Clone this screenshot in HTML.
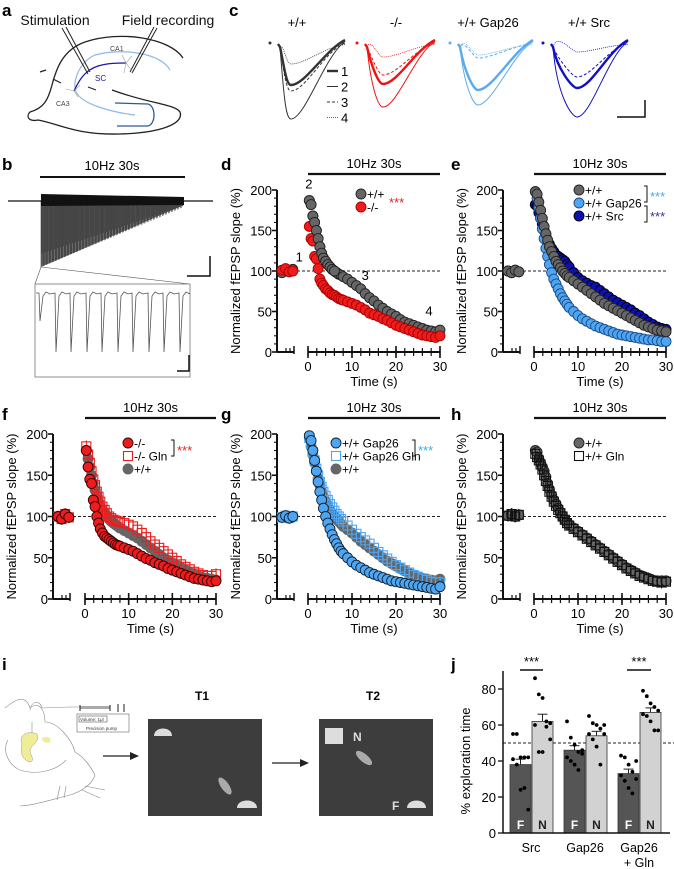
<!DOCTYPE html>
<html><head><meta charset="utf-8">
<style>
html,body{margin:0;padding:0;background:#fff;}
svg{display:block;font-family:"Liberation Sans",sans-serif;}
.pl{font-weight:bold;font-size:17px;}
</style></head>
<body>
<svg id="fig" width="674" height="869" viewBox="0 0 674 869" xmlns="http://www.w3.org/2000/svg">
<text class="pl" x="2" y="16">a</text>
<text class="pl" x="229" y="16">c</text>
<text class="pl" x="2" y="170">b</text>
<text class="pl" x="221" y="170">d</text>
<text class="pl" x="451" y="170">e</text>
<text class="pl" x="2" y="420">f</text>
<text class="pl" x="221" y="420">g</text>
<text class="pl" x="451" y="420">h</text>
<text class="pl" x="2" y="670">i</text>
<text class="pl" x="451" y="670">j</text>

<g fill="none">
<text x="55" y="25" font-size="14" text-anchor="middle" fill="#111">Stimulation</text>
<text x="168" y="25" font-size="14" text-anchor="middle" fill="#111">Field recording</text>
<path d="M183,58 C170,38 120,30 85,42 C62,50 56,70 52,85 C48,100 44,108 30,112 C26,116 28,122 38,120 C60,124 75,135 120,134 C160,133 184,124 180,112 C175,104 150,104 112,90" stroke="#222" stroke-width="1.3"/>
<path d="M170,70 C160,52 120,48 95,55 C80,62 72,80 76,92 C82,104 110,112 135,115" stroke="#8fb8e8" stroke-width="1.2"/>
<path d="M115,103 L148,104 C156,106 156,124 148,126 L117,126" stroke="#2a5a9a" stroke-width="1.3"/>
<path d="M74,91 C80,78 86,70 98,66 C108,63 118,63 126,63" stroke="#1a1aa0" stroke-width="1.3"/>
<text x="95" y="81" font-size="8" fill="#1a1aa0">SC</text>
<text x="110" y="51" font-size="7" fill="#444">CA1</text>
<text x="56" y="106" font-size="7" fill="#444">CA3</text>
<path d="M62,28 L88,74 M66,27 L90,72" stroke="#222" stroke-width="1"/>
<path d="M157,28 L132,73 M154,27 L130,72" stroke="#222" stroke-width="1"/>
<path d="M126,63 l-4,-8 m4,8 l6,-7 m-6,7 l-2,10 m2,-10 l6,8 M74,91 l-8,-2 m8,2 l6,-6 m-6,6 l4,6" stroke="#999" stroke-width="0.6"/>
<path d="M40,72 l6,-2 M53,79 l8,4 M88,87 l8,3" stroke="#222" stroke-width="1.2"/>
</g>

<g id="panelC"></g>
<g id="panelB"></g>
<g id="panelD"></g>
<g id="panelE"></g>
<g id="panelF"></g>
<g id="panelG"></g>
<g id="panelH"></g>

<g>
<g fill="none" stroke="#888" stroke-width="0.6">
<path d="M5,708 C15,700 25,693 30,708 C40,700 45,712 45,722 C58,722 72,740 75,752 C85,758 90,766 95,775 C92,785 80,792 70,795 C50,800 35,805 20,806"/>
<path d="M8,740 C2,750 8,765 20,770 C35,775 55,772 66,760"/>
<path d="M30,710 C32,700 40,700 42,708 L70,707 L110,707"/>
<path d="M32,740 L32,722"/>
<path d="M85,786 l20,4 M82,790 l18,8 M60,786 l-3,14 M66,786 l-2,12"/>
</g>
<path d="M22,744 C18,735 28,730 37,734 C40,742 32,744 30,750 C30,756 36,760 30,762 C22,760 20,752 22,744 Z" fill="#f1ec96" stroke="#999" stroke-width="0.5"/>
<path d="M42,738 C48,736 52,737 50,742 C46,744 42,742 42,738Z" fill="#f1ec96"/>
<rect x="77" y="714" width="52" height="18" fill="#fff" stroke="#666" stroke-width="0.6"/>
<rect x="79" y="716" width="28" height="6" fill="none" stroke="#333" stroke-width="0.5"/>
<text x="80" y="721" font-size="4.5" fill="#333">Volume: 1μl</text>
<text x="86" y="730" font-size="4.5" fill="#333">Precision pump</text>
<rect x="80" y="706" width="30" height="3" fill="#aaa"/>
<path d="M80,705 v6 M110,705 v6 M118,704 v8 M124,704 v8" stroke="#222" stroke-width="1"/>
<path d="M103,756 H130" stroke="#222" stroke-width="1.2"/><path d="M130,752 L139,756 L130,760Z" fill="#222"/>
<path d="M272,763 H300" stroke="#222" stroke-width="1.2"/><path d="M300,759 L309,763 L300,767Z" fill="#222"/>
<text x="202" y="700" font-size="12" font-weight="bold" text-anchor="middle">T1</text>
<text x="373" y="700" font-size="12" font-weight="bold" text-anchor="middle">T2</text>
<rect x="148" y="719" width="114" height="97" fill="#3d3d3d"/>
<rect x="319" y="719" width="114" height="97" fill="#3d3d3d"/>
<path d="M154,736 C154,726 172,726 172,736 Z" fill="#ddd"/>
<path d="M237,808 C237,798 257,798 257,808 Z" fill="#ddd"/>
<ellipse cx="225" cy="786" rx="4" ry="10" transform="rotate(-35 225 786)" fill="#aaa"/>
<rect x="325" y="728" width="18" height="16" fill="#ddd"/>
<text x="353" y="741" font-size="12" font-weight="bold" fill="#ddd">N</text>
<ellipse cx="364" cy="758" rx="4" ry="10" transform="rotate(-50 364 758)" fill="#aaa"/>
<text x="392" y="810" font-size="12" font-weight="bold" fill="#ddd">F</text>
<path d="M407,808 C407,798 426,798 426,808 Z" fill="#ddd"/>
</g>

<g id="panelJ"></g>
</svg>

<script>
var stimTimes = [0.3,0.7,1.1,1.5,1.9,2.3,2.7,3.1,3.5,4,4.5,5,5.5,6,6.5,7,7.5,8,9,10,11,12,13,14,15,16,17,18,19,20,21,22,23,24,25,26,27,28,29,30];
var preTimes = [-4,-3,-2,-1];
var dWT  = [187,182,168,160,150,140,130,122,116,112,108,105,102,100,98,96,95,93,90,86,82,78,72,67,63,58,54,50,47,44,40,37,35,33,31,29,27,26,25,27];
var dKO  = [155,140,137,118,115,103,90,85,82,78,76,73,71,70,68,66,65,64,62,60,58,55,52,48,46,44,41,39,36,33,31,29,27,25,23,21,20,19,18,20];
var dWTpre = [98,101,99,102];
var dKOpre = [101,103,99,100];
var eWT  = [198,195,185,175,165,155,146,138,130,124,118,112,108,104,100,97,94,92,88,84,80,76,72,68,64,60,57,54,51,48,45,42,39,36,33,31,29,27,26,25];
var eGap = [198,190,178,165,152,140,128,118,108,98,90,84,78,72,67,63,59,55,50,45,41,38,35,32,30,28,26,24,22,21,20,19,18,17,16,15,15,14,13,13];
var eSrc = [182,180,172,165,158,150,144,138,133,128,124,120,118,116,114,112,108,105,98,92,88,85,82,80,76,72,68,64,61,58,55,52,48,45,41,37,34,31,29,28];
var ePre = [100,98,101,99];
var fKO  = [180,160,145,140,120,112,100,92,85,80,76,74,72,70,68,66,65,64,62,60,58,55,52,49,47,44,42,40,37,35,33,31,29,27,25,24,23,22,21,22];
var fKOGln = [185,175,165,155,145,138,130,124,118,112,108,104,100,98,96,95,94,93,92,90,88,84,80,75,70,66,62,58,54,50,46,42,39,36,33,31,29,28,28,30];
var fWT  = [180,170,160,150,140,132,125,118,112,108,104,100,97,94,92,90,88,86,83,80,77,74,70,66,62,58,54,50,47,44,41,38,35,32,30,28,26,25,24,23];
var fPre = [100,97,103,99];
var gGap = [198,192,180,168,155,142,130,120,110,100,92,85,78,72,67,62,58,55,50,45,41,38,35,32,30,28,26,24,22,21,20,19,18,17,16,15,14,13,12,15];
var gGapGln = [195,188,178,168,158,150,142,136,130,125,120,115,111,107,103,100,97,94,89,84,79,75,71,67,62,57,53,49,45,41,38,35,32,29,27,25,23,21,20,20];
var gWT  = [195,185,175,165,155,146,138,130,124,118,113,108,104,100,97,94,91,88,84,80,75,70,66,62,58,54,50,46,43,40,37,34,31,29,27,25,24,23,22,24];
var gPre = [99,101,98,100];
var hWT  = [180,178,170,165,160,155,148,140,133,126,120,115,110,105,100,96,93,90,86,82,78,74,70,66,62,58,54,50,46,42,38,35,32,29,27,25,23,22,22,22];
var hGln = [176,172,168,163,157,150,143,137,130,124,118,113,108,104,100,96,92,89,85,81,77,73,69,65,61,57,53,49,45,41,37,34,31,28,26,24,22,21,20,21];
var hPre = [101,103,100,102];
var yTicks = [0,50,100,150,200];
var xTicks = [0,10,20,30];

var jGroups = ["Src","Gap26","Gap26"];
var jFmean = [38,46,33];
var jNmean = [62,54,67];
var jFerr = [3,2.5,2.5];
var jNerr = [4,2.5,2.5];
var jFpts = [[55,55,42,42,42,41,38,24,25,13],[62,53,49,45,46,42,40,38,35,44],[43,42,38,34,30,32,29,25,22,40]];
var jNpts = [[86,77,75,62,61,60,45,45,59,52],[65,61,60,58,55,55,52,48,38,60],[79,76,72,70,68,66,65,62,57,57]];
var jTicks = [0,20,40,60,80];

var NS = "http://www.w3.org/2000/svg";
function el(tag, attrs, parent){ var e=document.createElementNS(NS,tag); for(var k in attrs) e.setAttribute(k,attrs[k]); if(parent) parent.appendChild(e); return e; }

function chart(gid, geo, series, legend){
  var g=document.getElementById(gid);
  var y0=geo.y0, y200=geo.y200;
  function Y(v){ return y0-(v/200)*(y0-y200); }
  function X(t){ return geo.x0+(t/30)*(geo.x30-geo.x0); }
  function XP(t){ return geo.ax+5+(t+4)*3.6; }
  var bar=el("line",{x1:geo.x0,x2:geo.x30,y1:y200-16,y2:y200-16,stroke:"#111","stroke-width":2.2},g);
  
  
  var bt=el("text",{x:(geo.x0+geo.x30)/2,y:y200-22,"font-size":13,"text-anchor":"middle"},g); bt.textContent="10Hz 30s";
  var dl=el("line",{x1:geo.ax,x2:geo.x30,y1:Y(100),y2:Y(100),stroke:"#222","stroke-width":1,"stroke-dasharray":"3,2"},g);
  
  
  var ya=el("g",{},g);
  
  
  el("line",{x1:geo.ax,x2:geo.ax,y1:y200,y2:y0,stroke:"#111","stroke-width":2},ya);
  for(var v=0;v<=200;v+=10){ var maj=(v%50===0); el("line",{x1:geo.ax-(maj?5:3),x2:geo.ax,y1:Y(v),y2:Y(v),stroke:"#111","stroke-width":maj?1.6:1.1},ya); }
  yTicks.forEach(function(v){ var t=el("text",{x:geo.ax-5,y:Y(v)+5,"font-size":13,"text-anchor":"end"},ya); t.textContent=v; });
  var yl=el("text",{x:0,y:0,"font-size":13,"text-anchor":"middle",transform:"translate("+(geo.ax-37)+","+((y0+y200)/2)+") rotate(-90)"},g);
  yl.textContent="Normalized fEPSP slope (%)";
  
  
  var xa=el("g",{},g);
  
  
  el("line",{x1:geo.ax,x2:geo.ax+17,y1:y0,y2:y0,stroke:"#111","stroke-width":2},xa);
  [geo.ax+9,geo.ax+13].forEach(function(x){el("line",{x1:x,x2:x,y1:y0-4,y2:y0,stroke:"#111","stroke-width":1.2},xa);});
  el("line",{x1:geo.ax+17,x2:geo.ax+17,y1:y0-6,y2:y0+2,stroke:"#111","stroke-width":1.5},xa);
  el("line",{x1:geo.x0,x2:geo.x30,y1:y0,y2:y0,stroke:"#111","stroke-width":2},xa);
  for(var t=0;t<=30;t+=2){ el("line",{x1:X(t),x2:X(t),y1:y0-4,y2:y0+4,stroke:"#111","stroke-width":1.2},xa); }
  xTicks.forEach(function(t){ el("line",{x1:X(t),x2:X(t),y1:y0-6,y2:y0+6,stroke:"#111","stroke-width":1.6},xa); var tx=el("text",{x:X(t),y:y0+19,"font-size":13,"text-anchor":"middle"},xa); tx.textContent=t; });
  var xl=el("text",{x:(geo.x0+geo.x30)/2,y:y0+34,"font-size":13,"text-anchor":"middle"},g); xl.textContent="Time (s)";
  
  
  series.forEach(function(s){
    var sg=el("g",{},g);
    
    
    function mark(x,y){
      if(s.err){ el("line",{x1:x,x2:x,y1:y-6,y2:y+6,stroke:s.stroke,"stroke-width":1},sg); }
      if(s.shape==="sq"){ var m=el("rect",{x:x-4.5,y:y-4.5,width:9,height:9,fill:s.fill,stroke:s.stroke,"stroke-width":1.1},sg);   }
      else { var c=el("circle",{cx:x,cy:y,r:5,fill:s.fill,stroke:s.stroke,"stroke-width":0.9},sg);   }
    }
    s.pre.forEach(function(v,i){ mark(XP(preTimes[i]),Y(v)); });
    s.vals.forEach(function(v,i){ mark(X(stimTimes[i]),Y(v)); });
  });
  legend.items.forEach(function(it,i){
    var lg=el("g",{},g);
    
    
    var ly=legend.y+i*13;
    if(it.shape==="sq") el("rect",{x:legend.x-4.5,y:ly-4.5,width:9,height:9,fill:it.fill,stroke:it.stroke,"stroke-width":1.1},lg);
    else el("circle",{cx:legend.x,cy:ly,r:5,fill:it.fill,stroke:it.stroke,"stroke-width":0.9},lg);
    var t=el("text",{x:legend.x+6,y:ly+4.5,"font-size":12},lg); t.textContent=it.label;
  });
  (legend.stars||[]).forEach(function(st){
    if(st.br) el("path",{d:"M"+(st.x-3)+","+st.y1+" h3 v"+(st.y2-st.y1)+" h-3",fill:"none",stroke:"#111","stroke-width":1},g);
    var t=el("text",{x:st.x+3,y:(st.y1+st.y2)/2+7,"font-size":13,fill:st.c},g); t.textContent="***";
  });
  (legend.nums||[]).forEach(function(n){ var t=el("text",{x:X(n[1]),y:Y(n[2]),"font-size":13,"text-anchor":"middle"},g); t.textContent=n[0]; });
}
var GR="#666", RD="#ee1c1c", LB="#4ea6f2", DB="#0c10b4", K="#222";
var row1={y0:352,y200:190}, row2={y0:599,y200:434};
chart("panelD",{ax:277,x0:308,x30:440,y0:row1.y0,y200:row1.y200},
 [{name:"series-wt",vals:dWT,pre:dWTpre,fill:GR,stroke:K},{name:"series-ko",vals:dKO,pre:dKOpre,fill:RD,stroke:"#a00"},{name:"series-wt-top",vals:dWT.slice(0,14),pre:[],fill:GR,stroke:K}],
 {x:361,y:194,items:[{label:"+/+",fill:GR,stroke:K},{label:"-/-",fill:RD,stroke:"#a00"}],stars:[{x:386,y1:194,y2:206,c:RD,br:false}],nums:[["1",-2,112],["2",0.2,202],["3",13,89],["4",27.5,45]]});
chart("panelE",{ax:503,x0:534,x30:666,y0:row1.y0,y200:row1.y200},
 [{name:"series-src",vals:eSrc,pre:ePre,fill:DB,stroke:"#000"},{name:"series-gap26",vals:eGap,pre:ePre,fill:LB,stroke:"#1a4a8a"},{name:"series-wt",vals:eWT,pre:ePre,fill:GR,stroke:K}],
 {x:579,y:190,items:[{label:"+/+",fill:GR,stroke:K},{label:"+/+ Gap26",fill:LB,stroke:"#1a4a8a"},{label:"+/+ Src",fill:DB,stroke:"#000"}],stars:[{x:647,y1:186,y2:202,c:LB,br:true},{x:647,y1:206,y2:222,c:"#35358f",br:true}]});
chart("panelF",{ax:53,x0:85,x30:216,y0:row2.y0,y200:row2.y200},
 [{name:"series-wt",vals:fWT,pre:fPre,fill:GR,stroke:GR},{name:"series-ko-gln",vals:fKOGln,pre:fPre,fill:"none",stroke:RD,shape:"sq",err:true},{name:"series-ko",vals:fKO,pre:fPre,fill:RD,stroke:"#300"}],
 {x:128,y:443,items:[{label:"-/-",fill:RD,stroke:"#300"},{label:"-/- Gln",fill:"#fff",stroke:RD,shape:"sq"},{label:"+/+",fill:GR,stroke:GR}],stars:[{x:174,y1:440,y2:456,c:RD,br:true}]});
chart("panelG",{ax:277,x0:308,x30:440,y0:row2.y0,y200:row2.y200},
 [{name:"series-wt",vals:gWT,pre:gPre,fill:GR,stroke:GR},{name:"series-gap26-gln",vals:gGapGln,pre:gPre,fill:"none",stroke:LB,shape:"sq",err:true},{name:"series-gap26",vals:gGap,pre:gPre,fill:LB,stroke:"#123"}],
 {x:336,y:443,items:[{label:"+/+ Gap26",fill:LB,stroke:"#123"},{label:"+/+ Gap26 Gln",fill:"#fff",stroke:LB,shape:"sq"},{label:"+/+",fill:GR,stroke:GR}],stars:[{x:415,y1:440,y2:456,c:"#2ab0f0",br:true}]});
chart("panelH",{ax:503,x0:534,x30:666,y0:row2.y0,y200:row2.y200},
 [{name:"series-wt",vals:hWT,pre:hPre,fill:GR,stroke:K},{name:"series-gln",vals:hGln,pre:hPre,fill:"none",stroke:"#111",shape:"sq",err:true}],
 {x:579,y:443,items:[{label:"+/+",fill:GR,stroke:K},{label:"+/+ Gln",fill:"#fff",stroke:"#111",shape:"sq"}]});

(function(){
  var g=document.getElementById("panelB");
  var l=el("line",{x1:40,x2:185,y1:177,y2:177,stroke:"#111","stroke-width":2},g);
   
  var t=el("text",{x:112,y:170,"font-size":13,"text-anchor":"middle"},g); t.textContent="10Hz 30s";
  el("line",{x1:8,x2:213,y1:201,y2:201,stroke:"#111","stroke-width":1.2},g);
  el("path",{d:"M41,201 L41,267 L184,205 L184,201 Z",fill:"#6a6a6a"},g);
  var d="";
  for(var i=0;i<140;i++){ var x=41+i*1.02; var dep=66-(i/140)*60; if(i%3===1) dep*=0.8; d+="M"+x.toFixed(1)+",201 v"+dep.toFixed(1)+" "; }
  el("path",{d:d,stroke:"#222","stroke-width":0.5,fill:"none"},g);
  el("path",{d:"M41,194 L184,197 L184,205 L41,206 Z",fill:"#111"},g);
  el("path",{d:"M210,256 V276 H187",fill:"none",stroke:"#111","stroke-width":1.5},g);
  el("path",{d:"M41,267 L35,284 M41,267 L190,284",fill:"none",stroke:"#555","stroke-width":0.6},g);
  el("rect",{x:35,y:284,width:155,height:93,fill:"#fff",stroke:"#777","stroke-width":0.8},g);
  var p="M36,293";
  var sx=[40,56,71,87,102,118,133,149,164,180];
  sx.forEach(function(x,i){ var dep=(i===0)?28:59; p+=" L"+(x-1)+",293 L"+x+","+(293+dep)+" L"+(x+3)+",296 L"+(x+6)+",292 L"+(x+10)+",294"; });
  p+=" L189,293";
  el("path",{d:p,fill:"none",stroke:"#555","stroke-width":0.8},g);
  el("path",{d:"M189,355 V371 H177",fill:"none",stroke:"#111","stroke-width":1.5},g);
})();

(function(){
  var g=document.getElementById("panelC");
  var groups=[{lab:"+/+",x:297,c:"#333",on:278,mx:291,end:345,mins:[85,119,91,64]},
              {lab:"-/-",x:396,c:"#f01010",on:365,mx:383,end:435,mins:[84,107,75,57]},
              {lab:"+/+ Gap26",x:488,c:"#5aaaf0",on:458,mx:478,end:533,mins:[90,105,58,55]},
              {lab:"+/+ Src",x:589,c:"#1010c0",on:551,mx:577,end:628,mins:[88,117,77,52]}];
  var sty=[{w:2.4,da:""},{w:1,da:""},{w:1,da:"3,2"},{w:0.8,da:"1,1"}];
  groups.forEach(function(gr){
    var t=el("text",{x:gr.x,y:27,"font-size":13,"text-anchor":"middle"},g); t.textContent=gr.lab;
    el("circle",{cx:gr.on-8,cy:43,r:1.5,fill:gr.c},g);
    gr.mins.forEach(function(m,i){
      var d="M"+gr.on+",44 L"+(gr.on+2)+",47 C"+(gr.on+6)+","+(m-20)+" "+(gr.mx-5)+","+m+" "+gr.mx+","+m+" C"+(gr.mx+14)+","+m+" "+(gr.end-20)+","+(44+(m-44)*0.15)+" "+gr.end+","+(40+i*1.5);
      el("path",{d:d,fill:"none",stroke:gr.c,"stroke-width":sty[i].w,"stroke-dasharray":sty[i].da},g);
    });
  });
  ["1","2","3","4"].forEach(function(n,i){ var y=71+i*15.5; el("line",{x1:327,x2:338,y1:y,y2:y,stroke:"#333","stroke-width":sty[i].w,"stroke-dasharray":sty[i].da},g); var t=el("text",{x:341,y:y+5,"font-size":13},g); t.textContent=n; });
  el("path",{d:"M645,100 V117 H617",fill:"none",stroke:"#111","stroke-width":1.5},g);
})();

(function(){
  var g=document.getElementById("panelJ");
  var ax=503, y0=833, y80=689;
  function Y(v){ return y0-(v/80)*(y0-y80); }
  var gx=[510,564,618], bw=21;
  el("line",{x1:ax,x2:674,y1:Y(50),y2:Y(50),stroke:"#222","stroke-dasharray":"3,2","stroke-width":1},g);
  jFmean.forEach(function(v,i){
    var b=el("rect",{x:gx[i],y:Y(v),width:bw,height:y0-Y(v),fill:"#555",stroke:"#333","stroke-width":0.8},g);
    
    
    el("line",{x1:gx[i]+bw/2,x2:gx[i]+bw/2,y1:Y(v+jFerr[i]),y2:Y(v),stroke:"#222"},g);
    el("line",{x1:gx[i]+bw/2-5,x2:gx[i]+bw/2+5,y1:Y(v+jFerr[i]),y2:Y(v+jFerr[i]),stroke:"#222"},g);
    var nv=jNmean[i], nx=gx[i]+bw+1;
    var nb=el("rect",{x:nx,y:Y(nv),width:bw,height:y0-Y(nv),fill:"#d2d2d2",stroke:"#333","stroke-width":0.8},g);
    
    
    el("line",{x1:nx+bw/2,x2:nx+bw/2,y1:Y(nv+jNerr[i]),y2:Y(nv),stroke:"#222"},g);
    el("line",{x1:nx+bw/2-5,x2:nx+bw/2+5,y1:Y(nv+jNerr[i]),y2:Y(nv+jNerr[i]),stroke:"#222"},g);
    jFpts[i].forEach(function(p,k){ var c=el("circle",{cx:gx[i]+3+(k%5)*3.8,cy:Y(p),r:1.9,fill:"#000"},g);   });
    jNpts[i].forEach(function(p,k){ var c=el("circle",{cx:nx+3+(k%5)*3.8,cy:Y(p),r:1.9,fill:"#000"},g);   });
    var f=el("text",{x:gx[i]+bw/2,y:829,"font-size":12,"font-weight":"bold","text-anchor":"middle",fill:"#fff"},g); f.textContent="F";
    var n=el("text",{x:nx+bw/2,y:829,"font-size":12,"font-weight":"bold","text-anchor":"middle",fill:"#222"},g); n.textContent="N";
    var lb=el("text",{x:gx[i]+bw,y:852,"font-size":12.5,"text-anchor":"middle"},g); lb.textContent=jGroups[i];
    
    
  });
  var gl=el("text",{x:gx[2]+bw,y:867,"font-size":12.5,"text-anchor":"middle"},g); gl.textContent="+ Gln";
  el("line",{x1:ax,x2:ax,y1:Y(90),y2:y0,stroke:"#111","stroke-width":1.5},g);
  el("line",{x1:ax,x2:670,y1:y0,y2:y0,stroke:"#111","stroke-width":1.5},g);
  jTicks.forEach(function(v){ el("line",{x1:ax-5,x2:ax,y1:Y(v),y2:Y(v),stroke:"#111","stroke-width":1.3},g); var t=el("text",{x:ax-7,y:Y(v)+5,"font-size":13,"text-anchor":"end"},g); t.textContent=v; });
  var yl=el("text",{x:0,y:0,"font-size":13,"text-anchor":"middle",transform:"translate(470,761) rotate(-90)"},g); yl.textContent="% exploration time";
  
  
  [[520,543],[627,651]].forEach(function(s){ el("line",{x1:s[0],x2:s[1],y1:670,y2:670,stroke:"#111","stroke-width":1.5},g); var t=el("text",{x:(s[0]+s[1])/2,y:666,"font-size":13,"text-anchor":"middle"},g); t.textContent="***"; });
})();
</script>
</body></html>
